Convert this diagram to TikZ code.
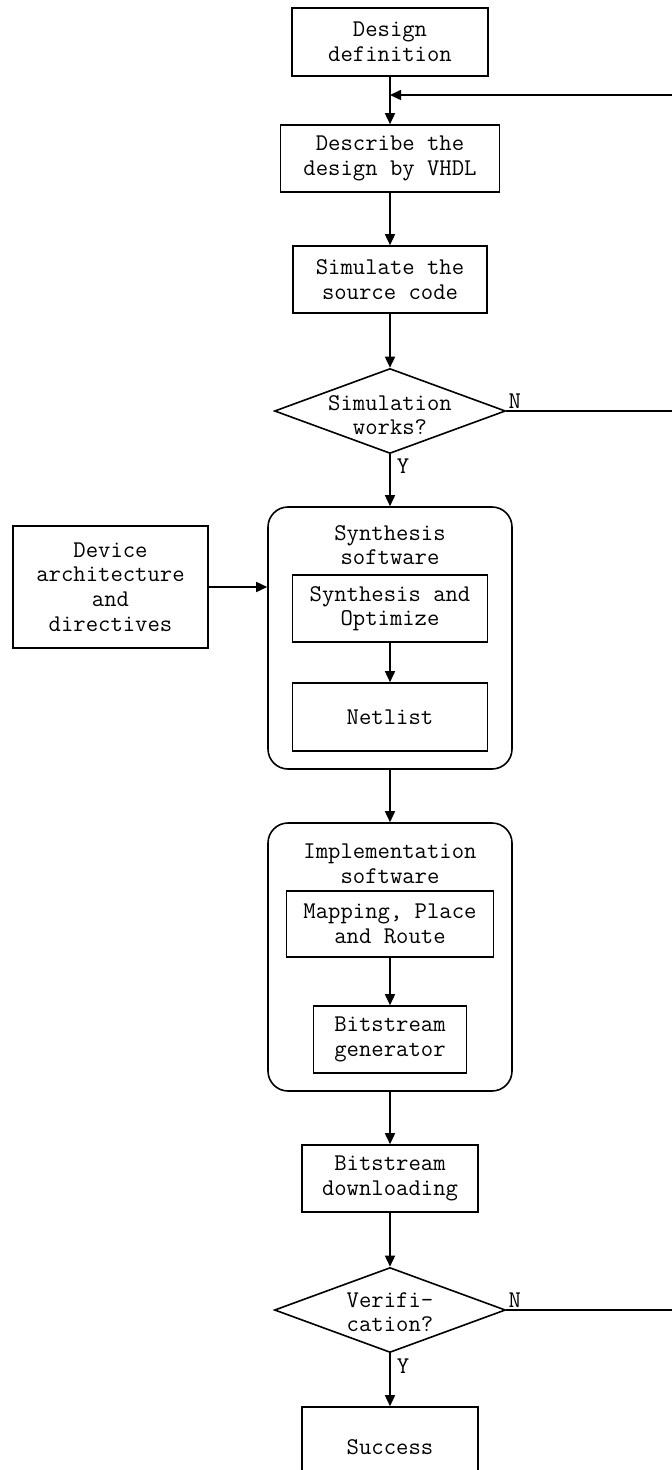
\documentclass[tikz,border=0pt]{standalone}
\usetikzlibrary{arrows.meta,shapes.geometric}
\begin{document}
\begin{tikzpicture}[x=0.5pt,y=-0.5pt,
  every node/.style={font=\ttfamily\fontsize{12}{12.3}\selectfont, align=center, inner sep=0pt},
  box/.style={draw, line width=0.8pt, rectangle},
  group/.style={draw, line width=0.8pt, rectangle, rounded corners=10pt},
  decision/.style={draw, line width=0.8pt, diamond, minimum width=115.5pt, minimum height=42.5pt, inner sep=0pt},
  flow/.style={line width=0.8pt, -{Triangle[length=5.5pt,width=5pt]}},
  wire/.style={line width=0.8pt},
  tag/.style={font=\ttfamily\fontsize{12}{12.3}\selectfont}
]
\useasboundingbox (0,0) rectangle (672,1470);

% main chain of steps
\node[box, minimum width=98pt, minimum height=34pt] (def) at (390,42) {Design\\definition};
\node[box, minimum width=109.5pt, minimum height=33.5pt] (vhdl) at (390,158.5) {Describe the\\design by VHDL};
\node[box, minimum width=97pt, minimum height=33.5pt] (sim) at (390,279.5) {Simulate the\\source code};
\node[decision] (simok) at (390,411) {};
\node at (390,415) (simoktxt) {Simulation\\works?};

% synthesis group
\node[group, minimum width=122pt, minimum height=131pt] (synth) at (390,638) {};
\node at (390,545) (synthtitle) {Synthesis\\software};
\node[box, minimum width=97.5pt, minimum height=33.5pt] (opt) at (390,608.5) {Synthesis and\\Optimize};
\node[box, minimum width=97.5pt, minimum height=34pt] (net) at (390,717) {Netlist};
\node[box, minimum width=97.5pt, minimum height=61pt] (dev) at (110.5,587) {Device\\architecture\\and\\directives};

% implementation group
\node[group, minimum width=122pt, minimum height=134pt] (impl) at (390,957) {};
\node at (390,864) (impltitle) {Implementation\\software};
\node[box, minimum width=103.5pt, minimum height=33pt] (par) at (390,924) {Mapping, Place\\and Route};
\node[box, minimum width=76.5pt, minimum height=33.5pt] (bitgen) at (390,1039.5) {Bitstream\\generator};

% download and verification
\node[box, minimum width=88pt, minimum height=33.5pt] (dl) at (390,1178.5) {Bitstream\\downloading};
\node[decision] (ver) at (390,1310) {};
\node at (390,1312) (vertxt) {Verifi-\\cation?};
\node[box, minimum width=88pt, minimum height=40pt] (ok) at (390,1447) {Success};

% connectors
\draw[flow] (def) -- (vhdl);
\draw[flow] (vhdl) -- (sim);
\draw[flow] (sim) -- (simok);
\draw[flow] (simok) -- node[tag, anchor=north west, pos=0.08, xshift=3pt] {Y} (synth);
\draw[flow] (dev) -- (dev -| synth.west);
\draw[flow] (opt) -- (net);
\draw[flow] (synth) -- (impl);
\draw[flow] (par) -- (bitgen);
\draw[flow] (impl) -- (dl);
\draw[flow] (dl) -- (ver);
\draw[flow] (ver) -- node[tag, anchor=north west, pos=0.08, xshift=3pt] {Y} (ok);

% feedback loops returning to the VHDL description
\coordinate (rail) at (700,95);
\coordinate (join) at (390,95);
\draw[wire] (simok.east) -- (simok.east -| rail) -- (rail);
\draw[flow] (rail) -- (join);
\draw[wire] (ver.east) -- (ver.east -| rail) -- (simok.east -| rail);
\node[tag, anchor=south west] (simn) at ([xshift=1pt,yshift=1pt]simok.east) {N};
\node[tag, anchor=south west] (vern) at ([xshift=1pt,yshift=1pt]ver.east) {N};
\end{tikzpicture}
\end{document}
